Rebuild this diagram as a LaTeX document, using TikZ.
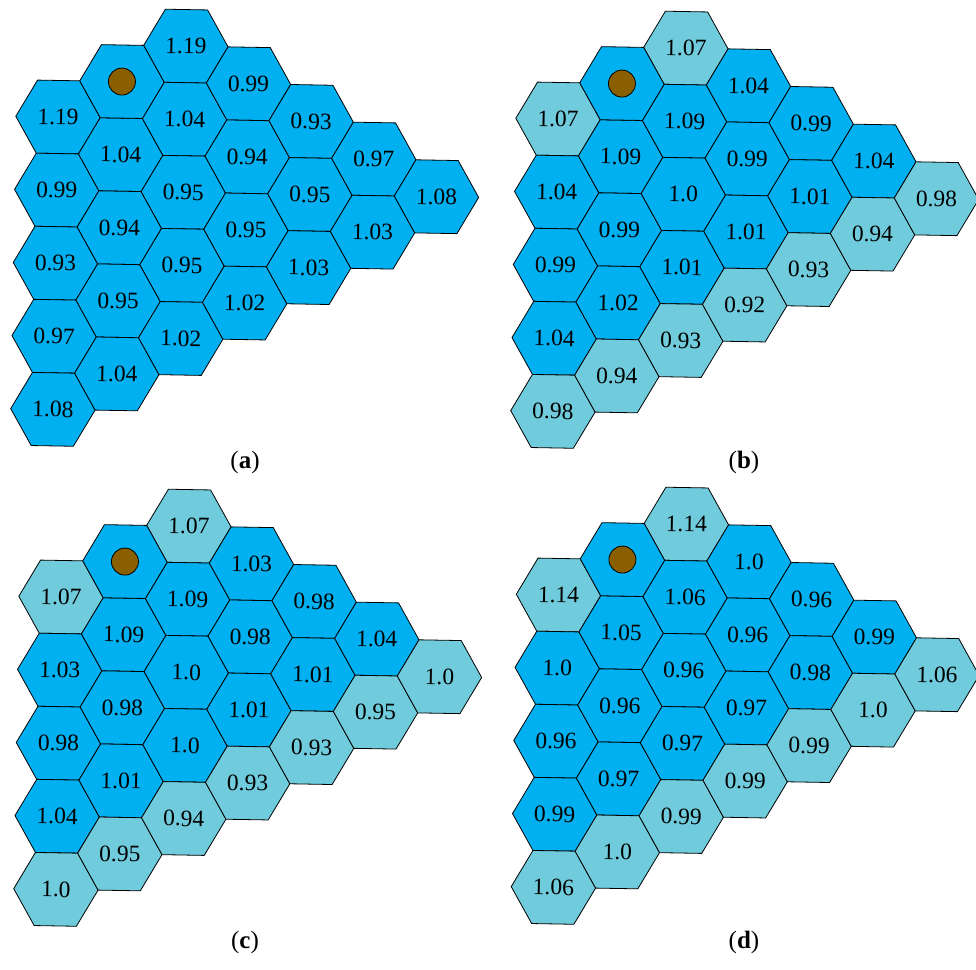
\documentclass[tikz,border=0pt]{standalone}
\usepackage{fontspec}
\setmainfont{Liberation Serif}
\usepackage{tikz}
\usetikzlibrary{shapes.geometric}
\definecolor{hexblue}{RGB}{0,176,240}
\definecolor{hexcyan}{RGB}{112,204,220}
\definecolor{sinkbrown}{RGB}{138,95,0}

\begin{document}
\begin{tikzpicture}[x=1pt, y=-1pt,
    hex/.style={regular polygon, regular polygon sides=6, minimum size=84.4pt, inner sep=0pt,
        draw=black, line width=0.8pt, transform shape, font=\fontsize{23.5}{23.5}\selectfont},
    dark/.style={hex, fill=hexblue},
    light/.style={hex, fill=hexcyan},
    sink/.style={circle, draw=black, line width=0.8pt, fill=sinkbrown, minimum size=27pt, inner sep=0pt},
    caption/.style={font=\fontsize{25}{25}\selectfont}]

% Page frame
\useasboundingbox (0,0) rectangle (976,969);

% Panel (a)
\begin{scope}[shift={(58,117)}, rotate=-1]
\foreach \c/\r/\v/\s in {0/0/1.19/dark, 0/1/0.99/dark, 0/2/0.93/dark, 0/3/0.97/dark, 0/4/1.08/dark,
    1/1/1.04/dark, 1/2/0.94/dark, 1/3/0.95/dark, 1/4/1.04/dark,
    2/0/1.19/dark, 2/1/1.04/dark, 2/2/0.95/dark, 2/3/0.95/dark, 2/4/1.02/dark,
    3/0/0.99/dark, 3/1/0.94/dark, 3/2/0.95/dark, 3/3/1.02/dark,
    4/0/0.93/dark, 4/1/0.95/dark, 4/2/1.03/dark,
    5/0/0.97/dark, 5/1/1.03/dark,
    6/0/1.08/dark} {
    \pgfmathsetmacro\hx{63.3*\c}
    \pgfmathsetmacro\hy{36.55*(abs(\c-2)-2)+73.1*\r}
    \node[\s] (a\c\r) at (\hx,\hy) {\v};
}
\node[dark] (a10) at (63.3,-36.55) {};
\node[sink] (asink) at (a10) {};
\end{scope}

% Panel (b)
\begin{scope}[shift={(558,119)}, rotate=-1]
\foreach \c/\r/\v/\s in {0/0/1.07/light, 0/1/1.04/dark, 0/2/0.99/dark, 0/3/1.04/dark, 0/4/0.98/light,
    1/1/1.09/dark, 1/2/0.99/dark, 1/3/1.02/dark, 1/4/0.94/light,
    2/0/1.07/light, 2/1/1.09/dark, 2/2/1.0/dark, 2/3/1.01/dark, 2/4/0.93/light,
    3/0/1.04/dark, 3/1/0.99/dark, 3/2/1.01/dark, 3/3/0.92/light,
    4/0/0.99/dark, 4/1/1.01/dark, 4/2/0.93/light,
    5/0/1.04/dark, 5/1/0.94/light,
    6/0/0.98/light} {
    \pgfmathsetmacro\hx{63.3*\c}
    \pgfmathsetmacro\hy{36.55*(abs(\c-2)-2)+73.1*\r}
    \node[\s] (b\c\r) at (\hx,\hy) {\v};
}
\node[dark] (b10) at (63.3,-36.55) {};
\node[sink] (bsink) at (b10) {};
\end{scope}

% Panel (c)
\begin{scope}[shift={(61,597)}, rotate=-1]
\foreach \c/\r/\v/\s in {0/0/1.07/light, 0/1/1.03/dark, 0/2/0.98/dark, 0/3/1.04/dark, 0/4/1.0/light,
    1/1/1.09/dark, 1/2/0.98/dark, 1/3/1.01/dark, 1/4/0.95/light,
    2/0/1.07/light, 2/1/1.09/dark, 2/2/1.0/dark, 2/3/1.0/dark, 2/4/0.94/light,
    3/0/1.03/dark, 3/1/0.98/dark, 3/2/1.01/dark, 3/3/0.93/light,
    4/0/0.98/dark, 4/1/1.01/dark, 4/2/0.93/light,
    5/0/1.04/dark, 5/1/0.95/light,
    6/0/1.0/light} {
    \pgfmathsetmacro\hx{63.3*\c}
    \pgfmathsetmacro\hy{36.55*(abs(\c-2)-2)+73.1*\r}
    \node[\s] (c\c\r) at (\hx,\hy) {\v};
}
\node[dark] (c10) at (63.3,-36.55) {};
\node[sink] (csink) at (c10) {};
\end{scope}

% Panel (d)
\begin{scope}[shift={(558.5,595)}, rotate=-1]
\foreach \c/\r/\v/\s in {0/0/1.14/light, 0/1/1.0/dark, 0/2/0.96/dark, 0/3/0.99/dark, 0/4/1.06/light,
    1/1/1.05/dark, 1/2/0.96/dark, 1/3/0.97/dark, 1/4/1.0/light,
    2/0/1.14/light, 2/1/1.06/dark, 2/2/0.96/dark, 2/3/0.97/dark, 2/4/0.99/light,
    3/0/1.0/dark, 3/1/0.96/dark, 3/2/0.97/dark, 3/3/0.99/light,
    4/0/0.96/dark, 4/1/0.98/dark, 4/2/0.99/light,
    5/0/0.99/dark, 5/1/1.0/light,
    6/0/1.06/light} {
    \pgfmathsetmacro\hx{63.3*\c}
    \pgfmathsetmacro\hy{36.55*(abs(\c-2)-2)+73.1*\r}
    \node[\s] (d\c\r) at (\hx,\hy) {\v};
}
\node[dark] (d10) at (63.3,-36.55) {};
\node[sink] (dsink) at (d10) {};
\end{scope}

% Sub-figure captions
\node[caption] (capa) at (245,462) {(\textbf{a})};
\node[caption] (capb) at (744,462) {(\textbf{b})};
\node[caption] (capc) at (245,942) {(\textbf{c})};
\node[caption] (capd) at (744,942) {(\textbf{d})};
\end{tikzpicture}
\end{document}
